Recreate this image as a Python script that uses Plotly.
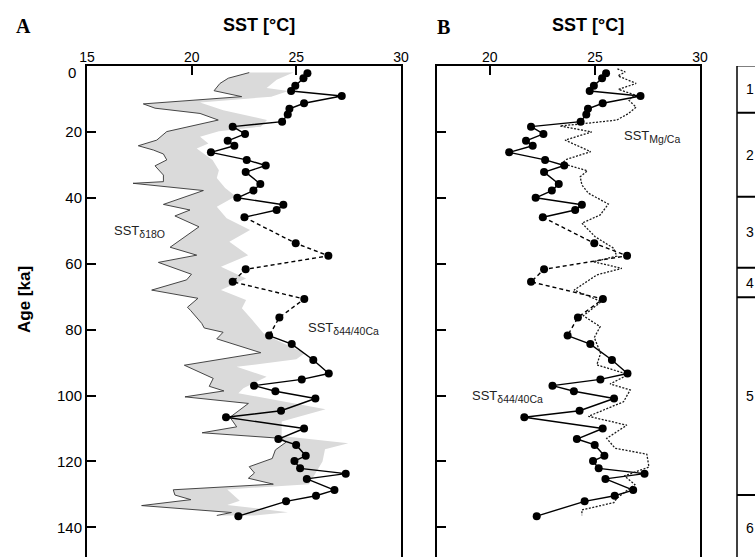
import plotly.graph_objects as go

# --- SST from d44/40Ca (foraminifera), age in ka ---
ca_age = [2.2, 3.7, 6.0, 7.6, 9.1, 11.3, 13.0, 14.7, 16.9, 18.4, 20.6, 22.7, 24.2, 26.2, 28.5,
          30.2, 32.2, 35.8, 37.8, 40.0, 42.1, 43.7, 45.9, 53.8, 57.6, 61.7, 65.5, 70.7, 76.3, 81.8,
          84.4, 89.2, 93.3, 95.1, 97.0, 98.7, 100.9, 104.6, 106.6, 110.0, 113.2, 115.0, 118.3, 119.9,
          122.1, 123.7, 125.3, 128.7, 130.4, 132.1, 136.6]
ca_sst = [25.53, 25.34, 24.95, 24.75, 27.17, 25.37, 24.67, 24.59, 24.32, 21.96, 22.55, 21.72, 22.04,
          20.92, 22.63, 23.54, 22.58, 23.28, 22.95, 22.18, 24.38, 24.06, 22.52, 24.97, 26.53, 22.58,
          21.96, 25.38, 24.19, 23.70, 24.78, 25.81, 26.55, 25.26, 22.98, 24.0, 25.91, 24.27, 21.64,
          25.37, 24.14, 24.99, 25.45, 24.91, 25.18, 27.36, 25.5, 26.82, 25.94, 24.51, 22.23]
# interval with sparse sampling, drawn dashed
ca_gap = (45.9, 81.8)

# --- SST from d18O: curve and right edge of its envelope ---
o_age = [2.0, 3.7, 5.3, 7.5, 9.3, 11.5, 12.8, 14.4, 16.4, 19.9, 22.5, 24.2, 25.5, 26.7, 28.5, 30.3,
         33.1, 35.1, 35.6, 37.8, 42.0, 43.7, 45.5, 48.8, 55.0, 57.4, 59.6, 63.2, 64.9, 68.0, 70.5,
         73.2, 74.2, 78.1, 79.5, 80.8, 82.8, 87.0, 90.8, 94.8, 97.2, 98.6, 100.4, 102.4, 106.6,
         109.5, 111.3, 113.0, 114.2, 116.5, 119.1, 121.6, 123.5, 125.1, 126.9, 128.6, 130.2, 131.6,
         133.4, 135.5, 136.4]
o_sst = [22.75, 21.75, 21.35, 21.07, 22.39, 17.69, 18.25, 20.40, 21.27, 18.81, 18.33, 17.45, 18.17,
         18.65, 18.81, 18.25, 18.65, 18.65, 17.2, 20.56, 18.65, 19.92, 19.2, 20.35, 18.97, 20.24,
         18.41, 19.99, 19.76, 18.09, 20.30, 19.8, 19.95, 20.48, 20.6, 21.5, 21.2, 23.3, 19.65, 21.03,
         20.84, 21.54, 19.68, 22.71, 21.83, 22.15, 20.50, 24.3, 24.5, 24.0, 23.85, 22.75, 23.0,
         22.71, 23.90, 19.12, 19.20, 19.96, 17.61, 21.9, 21.2]
env_age = [2.0, 4.2, 6.7, 7.6, 9.3, 11.1, 13.4, 16.4, 18.4, 19.8, 21.5, 23.5, 25.0, 28.5, 31.6, 34.0,
           37.0, 39.5, 42.7, 46.2, 49.8, 53.3, 57.4, 60.9, 64.5, 68.0, 71.0, 73.5, 77.1, 81.1, 83.0,
           87.2, 89.0, 91.3, 94.3, 97.8, 99.3, 104.2, 107.9, 112.3, 114.5, 116.3, 120.0, 126.9,
           128.5, 131.9, 133.2, 135.4, 136.4]
env_sst = [24.86, 24.06, 23.58, 24.62, 23.8, 20.40, 21.51, 23.60, 23.3, 21.3, 20.40, 20.80, 20.24,
           21.0, 21.3, 21.2, 21.6, 22.1, 21.2, 21.67, 22.79, 21.8, 22.7, 21.4, 22.6, 21.4, 22.6,
           22.4, 22.9, 23.43, 24.0, 25.4, 25.0, 22.15, 23.58, 22.47, 22.23, 26.4, 24.3, 24.3, 27.48,
           26.37, 26.25, 25.6, 21.7, 22.3, 21.7, 24.6, 23.0]

# --- SST from Mg/Ca ---
mg_age = [0.9, 1.8, 3.0, 5.3, 7.1, 8.8, 10.3, 12.5, 14.4, 16.4, 17.6, 18.2, 20.0, 22.5, 26.0, 28.3,
          29.5, 31.8, 33.6, 36.1, 38.6, 41.9, 45.2, 47.7, 51.8, 55.3, 57.7, 59.4, 61.4, 63.4, 68.0,
          71.5, 75.8, 79.1, 82.4, 87.2, 90.7, 93.6, 96.5, 98.3, 101.9, 106.3, 109.0, 113.0, 116.0,
          117.8, 121.7, 124.4, 127.0, 131.2, 132.5, 134.7, 136.3]
mg_sst = [26.07, 26.44, 26.1, 26.96, 26.12, 26.91, 26.6, 26.96, 26.6, 26.04, 24.3, 23.34, 24.85,
          23.58, 24.8, 23.66, 23.42, 24.64, 24.3, 24.38, 24.69, 25.64, 25.25, 24.38, 25.01, 25.89,
          26.04, 24.93, 26.28, 25.09, 24.01, 25.3, 24.45, 25.25, 24.97, 25.27, 25.09, 26.6, 25.72,
          26.68, 26.36, 24.69, 26.52, 25.56, 25.96, 27.47, 27.57, 26.4, 26.9, 26.04, 25.9, 24.38,
          24.38]

# --- marine isotope stages ---
mis_bounds = [0, 14.2, 39.7, 61.2, 70.2, 130.2, 150]
mis_labels = ["1", "2", "3", "4", "5", "6"]

age_ticks = [0, 20, 40, 60, 80, 100, 120, 140]
age_range = [149, 0]

W, H = 755, 557
FONT = "Liberation Sans, Arial, sans-serif"
BLACK = "#000000"


def px(v):
    return v / W


def py(v):
    return 1 - v / H


def split_segments(ages, vals, lo, hi):
    solid_x, solid_y, dash_x, dash_y = [], [], [], []
    for a, v in zip(ages, vals):
        if a <= lo or a >= hi:
            solid_x.append(v); solid_y.append(a)
        else:
            solid_x.append(None); solid_y.append(None)
        if lo <= a <= hi:
            dash_x.append(v); dash_y.append(a)
    return solid_x, solid_y, dash_x, dash_y


sx, sy, dx, dy = split_segments(ca_age, ca_sst, *ca_gap)

fig = go.Figure()

# Panel A: d18O envelope, d18O curve, Ca isotope SST
fig.add_trace(go.Scatter(
    x=env_sst + o_sst[::-1], y=env_age + o_age[::-1], fill="toself",
    fillcolor="#dadada", line=dict(width=0), mode="lines", hoverinfo="skip",
    xaxis="x", yaxis="y"))
fig.add_trace(go.Scatter(x=o_sst, y=o_age, mode="lines",
                         line=dict(color="#333333", width=0.9), xaxis="x", yaxis="y"))

for xa, ya in (("x", "y"), ("x3", "y2")):
    fig.add_trace(go.Scatter(x=sx, y=sy, mode="lines", connectgaps=False,
                             line=dict(color=BLACK, width=1.4), xaxis=xa, yaxis=ya))
    fig.add_trace(go.Scatter(x=dx, y=dy, mode="lines",
                             line=dict(color=BLACK, width=1.4, dash="4px,3px"), xaxis=xa, yaxis=ya))
    if xa == "x3":
        fig.add_trace(go.Scatter(x=mg_sst, y=mg_age, mode="lines",
                                 line=dict(color="#1a1a1a", width=1.3, dash="2px,1.5px"),
                                 xaxis=xa, yaxis=ya))
    fig.add_trace(go.Scatter(x=ca_sst, y=ca_age, mode="markers",
                             marker=dict(color=BLACK, size=8), xaxis=xa, yaxis=ya))

ydom = [0, py(66)]
common_x = dict(showgrid=False, zeroline=False, tickvals=[15, 20, 25, 30], ticks="inside",
                ticklen=9, tickwidth=2, tickcolor=BLACK, ticklabelstandoff=-4,
                tickfont=dict(family=FONT, size=14, color=BLACK))
common_y = dict(showgrid=False, zeroline=False, range=age_range, tickvals=age_ticks,
                ticks="inside", ticklen=9, tickwidth=2, tickcolor=BLACK,
                showline=True, linewidth=2, linecolor=BLACK, mirror=True, domain=ydom,
                tickfont=dict(family=FONT, size=15, color=BLACK))

# the top age label sits just below its tick, clear of the SST scale
age_ticktext = [""] + [str(t) for t in age_ticks[1:]]

fig.update_layout(
    width=W, height=H, margin=dict(l=0, r=0, t=0, b=0),
    template="none", paper_bgcolor="white", plot_bgcolor="rgba(0,0,0,0)",
    showlegend=False,
    xaxis=dict(common_x, domain=[px(87), px(401)], range=[15, 30], side="top", anchor="y",
               showline=True, linewidth=2, linecolor=BLACK),
    xaxis2=dict(common_x, domain=[px(87), px(401)], range=[15, 30], side="bottom", anchor="y",
                overlaying="x", showticklabels=False, showline=False),
    xaxis3=dict(common_x, domain=[px(437.3), px(700)], range=[17.5, 30], side="top",
                anchor="y2", showline=True, linewidth=2, linecolor=BLACK),
    xaxis4=dict(common_x, domain=[px(437.3), px(700)], range=[17.5, 30], side="bottom",
                anchor="y2", overlaying="x3", showticklabels=False, showline=False),
    yaxis=dict(common_y, anchor="x", automargin=False, ticktext=age_ticktext),
    yaxis2=dict(common_y, anchor="x3", showticklabels=False),
)
for ax in ("xaxis", "xaxis2", "xaxis3", "xaxis4"):
    fig.layout[ax].automargin = False

# marine isotope stage column
shapes = [
    dict(type="line", xref="paper", yref="y", x0=px(737), x1=px(737), y0=0, y1=149,
         line=dict(color=BLACK, width=1.5)),
    dict(type="line", xref="paper", yref="y", x0=px(737), x1=1.05, y0=0, y1=0,
         line=dict(color=BLACK, width=1.2)),
]
for b in mis_bounds[1:-1]:
    shapes.append(dict(type="line", xref="paper", yref="y", x0=px(737), x1=1.05, y0=b, y1=b,
                       line=dict(color=BLACK, width=2)))
fig.update_layout(shapes=shapes)

ann = []
for lab, a0, a1 in zip(mis_labels, mis_bounds[:-1], mis_bounds[1:]):
    ann.append(dict(text=lab, xref="paper", yref="y", x=px(750), y=(a0 + a1) / 2,
                    xanchor="center", yanchor="middle",
                    showarrow=False, font=dict(family=FONT, size=14, color=BLACK)))

title_font = dict(family=FONT, size=18, color=BLACK)
serif = dict(family="Liberation Serif, Times New Roman, serif", size=20, color=BLACK)
mid = dict(xanchor="center", yanchor="middle", showarrow=False, xref="paper", yref="paper")
ann += [
    dict(mid, text="<b>SST [°C]</b>", x=px(259), y=py(25), font=title_font),
    dict(mid, text="<b>SST [°C]</b>", x=px(588), y=py(25), font=title_font),
    dict(mid, text="<b>Age [ka]</b>", x=px(24), y=py(300), textangle=-90,
         font=dict(family=FONT, size=17, color=BLACK)),
    dict(mid, text="<b>A</b>", x=px(23), y=py(26), font=serif),
    dict(mid, text="<b>B</b>", x=px(443), y=py(27), font=serif),
    dict(mid, text=str(age_ticks[0]), x=px(72), y=py(73),
         font=dict(family=FONT, size=15, color=BLACK)),
]

lab_font = dict(family=FONT, size=13, color="#222222")
sub = lambda s: '<sub><span style="font-size:10.5px">' + s + "</span></sub>"
ann += [
    dict(text="SST" + sub("δ18O"), xref="x", yref="y", x=16.18, y=50.3, xanchor="left",
         yanchor="middle", showarrow=False, font=lab_font),
    dict(text="SST" + sub("δ44/40Ca"), xref="x", yref="y", x=25.46, y=79.6, xanchor="left",
         yanchor="middle", showarrow=False, font=lab_font),
    dict(text="SST" + sub("Mg/Ca"), xref="x3", yref="y2", x=26.28, y=21.5, xanchor="left",
         yanchor="middle", showarrow=False, font=lab_font),
    dict(text="SST" + sub("δ44/40Ca"), xref="x3", yref="y2", x=19.06, y=100.4, xanchor="left",
         yanchor="middle", showarrow=False, font=lab_font),
]
fig.update_layout(annotations=ann)

fig.write_html("out.html")
